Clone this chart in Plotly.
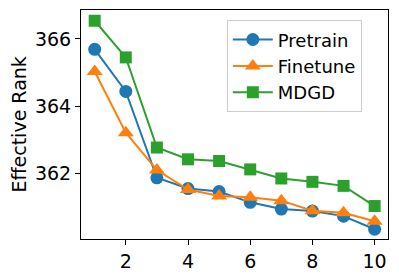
import plotly.graph_objects as go

steps = [1, 2, 3, 4, 5, 6, 7, 8, 9, 10]
pretrain = [365.69, 364.44, 361.87, 361.55, 361.46, 361.14, 360.94, 360.88, 360.73, 360.34]
finetune = [365.03, 363.21, 362.10, 361.52, 361.33, 361.29, 361.19, 360.89, 360.83, 360.58]
mdgd = [366.54, 365.45, 362.77, 362.42, 362.37, 362.12, 361.85, 361.75, 361.63, 361.03]
names = ["Pretrain", "Finetune", "MDGD"]
colors = ["#1f77b4", "#ff7f0e", "#2ca02c"]
symbols = ["circle", "triangle-up", "square"]
sizes = [13, 14, 12]
series = [pretrain, finetune, mdgd]
xticks = [2, 4, 6, 8, 10]
yticks = [362, 364, 366]

fig = go.Figure()
for name, ys, c, s, sz in zip(names, series, colors, symbols, sizes):
    fig.add_trace(go.Scatter(
        x=steps, y=ys, name=name, mode="lines+markers",
        line=dict(color=c, width=2),
        marker=dict(symbol=s, size=sz, color=c),
    ))

font = dict(family="DejaVu Sans", size=19, color="black")
fig.update_layout(
    width=399, height=278,
    margin=dict(l=81, r=11, t=10, b=39, autoexpand=False),
    paper_bgcolor="white", plot_bgcolor="white",
    font=font,
    showlegend=True,
    legend=dict(
        x=0.475, y=0.955, xanchor="left", yanchor="top",
        bgcolor="rgba(255,255,255,0.8)", bordercolor="#cccccc", borderwidth=1,
        font=dict(family="DejaVu Sans", size=18, color="black"),
        tracegroupgap=0, itemwidth=40,
    ),
    annotations=[dict(
        text="Effective Rank", xref="paper", yref="paper", x=-0.205, y=0.5,
        xanchor="center", yanchor="middle", textangle=-90, showarrow=False,
        font=font,
    )],
)
fig.update_xaxes(
    range=[0.56, 10.43], tickvals=xticks, ticks="outside", ticklen=5, tickwidth=1,
    tickcolor="black", showline=True, linecolor="black", linewidth=1, mirror=True,
    showgrid=False, zeroline=False, tickfont=font, automargin=False,
)
fig.update_yaxes(
    range=[360.05, 366.86], tickvals=yticks, ticks="outside", ticklen=5, tickwidth=1,
    tickcolor="black", showline=True, linecolor="black", linewidth=1, mirror=True,
    showgrid=False, zeroline=False, tickfont=font, automargin=False,
)
fig.write_html(
    "out.html",
    config={"displayModeBar": False},
    post_script="document.body.style.margin='0';document.body.style.padding='0';",
)
